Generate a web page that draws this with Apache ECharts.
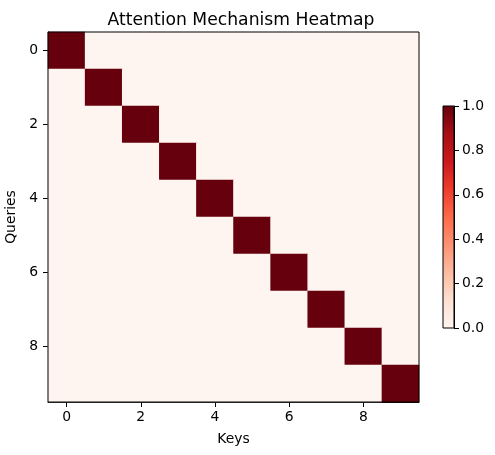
<!DOCTYPE html>
<html>
<head>
<meta charset="utf-8">
<script src="https://cdn.jsdelivr.net/npm/echarts@6/dist/echarts.min.js"></script>
<style>
  html, body { margin: 0; padding: 0; background: #fff; }
  #chart { width: 495px; height: 455px; }
</style>
</head>
<body>
<div id="chart"></div>
<script>
const keys = ['0', '1', '2', '3', '4', '5', '6', '7', '8', '9']
const queries = ['0', '1', '2', '3', '4', '5', '6', '7', '8', '9']
// attention weights, row = query, col = key
const weights = [
  [1, 0, 0, 0, 0, 0, 0, 0, 0, 0],
  [0, 1, 0, 0, 0, 0, 0, 0, 0, 0],
  [0, 0, 1, 0, 0, 0, 0, 0, 0, 0],
  [0, 0, 0, 1, 0, 0, 0, 0, 0, 0],
  [0, 0, 0, 0, 1, 0, 0, 0, 0, 0],
  [0, 0, 0, 0, 0, 1, 0, 0, 0, 0],
  [0, 0, 0, 0, 0, 0, 1, 0, 0, 0],
  [0, 0, 0, 0, 0, 0, 0, 1, 0, 0],
  [0, 0, 0, 0, 0, 0, 0, 0, 1, 0],
  [0, 0, 0, 0, 0, 0, 0, 0, 0, 1]
]
const colorbarMax = [1]
const REDS = ['#fff5f0', '#fee0d2', '#fcbba1', '#fc9272', '#fb6a4a', '#ef3b2c', '#cb181d', '#a50f15', '#67000d']

const FONT = 'DejaVu Sans'
const cells = []
weights.forEach((row, q) => row.forEach((v, k) => cells.push([k, q, v])))

const everyOther = (i) => i % 2 === 0

const chart = echarts.init(document.getElementById('chart'))
chart.setOption({
  animation: false,
  textStyle: { fontFamily: FONT },
  title: {
    text: 'Attention Mechanism Heatmap',
    left: 236,
    top: 7,
    textAlign: 'center',
    textStyle: { fontFamily: FONT, fontSize: 17.2, fontWeight: 'normal', color: '#000' }
  },
  grid: [
    { left: 48, top: 32, width: 371, height: 370, outerBoundsMode: 'none', containLabel: false,
      show: true, borderColor: '#000', borderWidth: 1, backgroundColor: 'transparent', z: 10 },
    { left: 443, top: 106, width: 11, height: 222, outerBoundsMode: 'none', containLabel: false,
      show: true, borderColor: '#000', borderWidth: 1, backgroundColor: 'transparent', z: 10 }
  ],
  visualMap: {
    show: false,
    min: 0,
    max: 1,
    seriesIndex: 0,
    inRange: { color: REDS }
  },
  xAxis: [
    {
      type: 'category',
      gridIndex: 0,
      data: keys,
      name: 'Keys',
      nameLocation: 'middle',
      nameGap: 30,
      nameTextStyle: { color: '#000', fontSize: 13.9, fontFamily: FONT },
      axisLine: { show: true, lineStyle: { color: '#000', width: 1 } },
      axisTick: { show: true, alignWithLabel: true, interval: everyOther, length: 5, lineStyle: { color: '#000' } },
      axisLabel: { interval: everyOther, color: '#000', fontSize: 13.9, margin: 8, fontFamily: FONT },
      splitLine: { show: false },
      splitArea: { show: false }
    },
    {
      type: 'category',
      gridIndex: 1,
      data: ['cb'],
      show: false
    }
  ],
  yAxis: [
    {
      type: 'category',
      gridIndex: 0,
      data: queries,
      inverse: true,
      name: 'Queries',
      nameLocation: 'middle',
      nameGap: 24,
      nameRotate: 90,
      nameTextStyle: { color: '#000', fontSize: 13.9, fontFamily: FONT },
      axisLine: { show: true, lineStyle: { color: '#000', width: 1 } },
      axisTick: { show: true, alignWithLabel: true, interval: everyOther, length: 5, lineStyle: { color: '#000' } },
      axisLabel: { interval: everyOther, color: '#000', fontSize: 13.9, margin: 10, fontFamily: FONT },
      splitLine: { show: false },
      splitArea: { show: false }
    },
    {
      type: 'value',
      gridIndex: 1,
      position: 'right',
      min: 0,
      max: 1,
      interval: 0.2,
      axisLine: { show: true, lineStyle: { color: '#000', width: 1 } },
      axisTick: { show: true, length: 5, lineStyle: { color: '#000' } },
      axisLabel: { color: '#000', fontSize: 13.9, margin: 8, fontFamily: FONT, formatter: (v) => v.toFixed(1) },
      splitLine: { show: false }
    }
  ],
  series: [
    {
      type: 'heatmap',
      xAxisIndex: 0,
      yAxisIndex: 0,
      data: cells,
      itemStyle: { borderWidth: 0 },
      emphasis: { disabled: true }
    },
    {
      // colorbar
      type: 'bar',
      xAxisIndex: 1,
      yAxisIndex: 1,
      data: colorbarMax,
      barWidth: '100%',
      silent: true,
      itemStyle: {
        borderRadius: 0,
        color: {
          type: 'linear', x: 0, y: 1, x2: 0, y2: 0,
          colorStops: REDS.map((c, i) => ({ offset: i / (REDS.length - 1), color: c }))
        }
      }
    }
  ]
})
</script>
</body>
</html>
